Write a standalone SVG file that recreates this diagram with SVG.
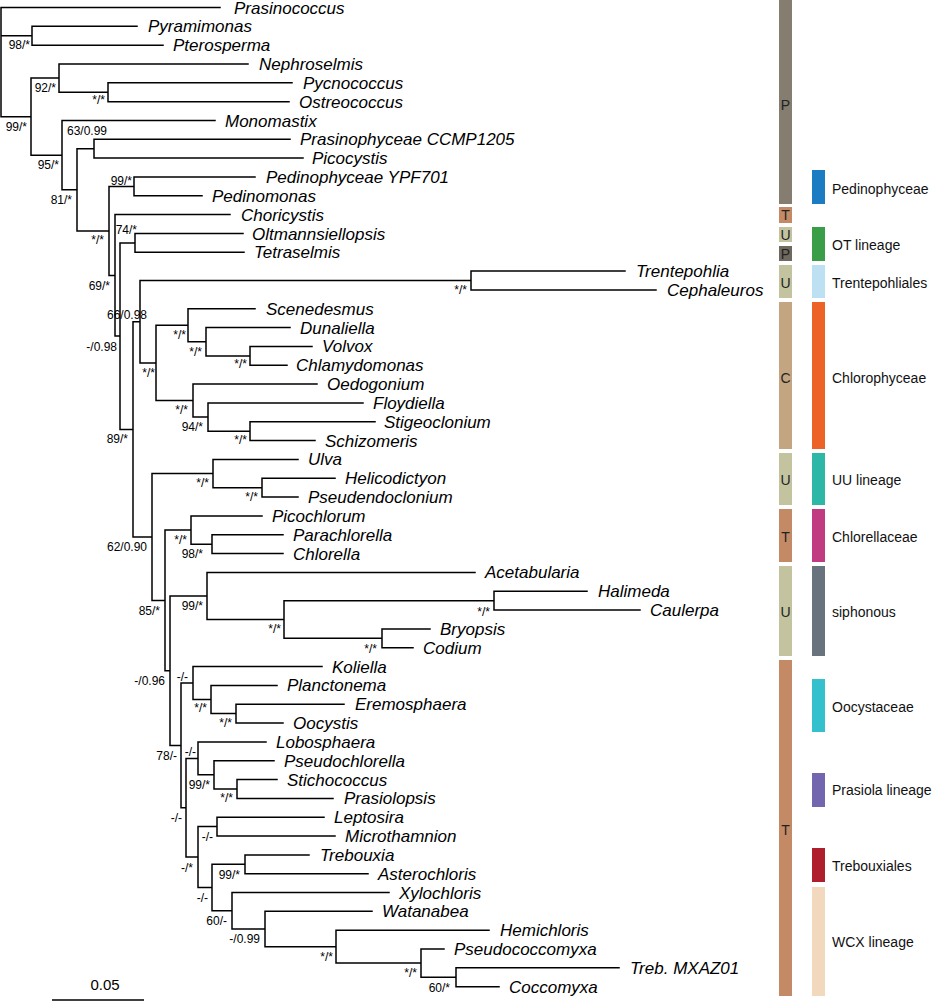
<svg xmlns="http://www.w3.org/2000/svg" width="936" height="1002" viewBox="0 0 936 1002">
<style>
.br{fill:none;stroke:#000;stroke-width:1.5;stroke-linejoin:miter;stroke-linecap:square}
.tx{font-family:"Liberation Sans",Arial,sans-serif;font-style:italic;font-size:17px;fill:#000}
.bs{font-family:"Liberation Sans",Arial,sans-serif;font-size:12px;fill:#000;text-anchor:end}
.lg{font-family:"Liberation Sans",Arial,sans-serif;font-size:14px;fill:#111}
.ab{font-family:"Liberation Sans",Arial,sans-serif;font-size:14px;fill:#222;text-anchor:middle}
</style>
<rect width="936" height="1002" fill="#fff"/>
<g id="connectors">
<path class="br" d="M220,7.5 H1 V116.7 H31 M1,35.8 H32
M137,26.3 H32 V45.2 H163
M59,78.1 H31 V155.2 H62
M248,64 H59 V92.3 H108
M292,82.8 H108 V101.7 H289
M215,120.5 H62 V189.8 H77
M94,148.7 H77 V230.9 H109
M290,139.3 H94 V158.1 H303
M134,186.4 H109 V275.4 H115
M255,177 H134 V195.8 H202
M230,214.6 H115 V336.1 H120
M135,242.9 H120 V429.4 H133
M243,233.5 H135 V252.3 H244
M140,321.7 H133 V537 H152
M471,280.6 H140 V362.9 H156
M625,271.1 H471 V290 H656
M188,325.3 H156 V400.6 H193
M255,308.8 H188 V341.7 H206
M290,327.6 H206 V355.9 H250
M312,346.4 H250 V365.3 H287
M317,384.1 H193 V417 H208
M363,402.9 H208 V431.2 H250
M375,421.8 H250 V440.6 H315
M213,473.6 H152 V600.4 H165
M298,459.4 H213 V487.7 H262
M335,478.3 H262 V497.1 H298
M191,530 H165 V670.7 H170
M262,515.9 H191 V544.2 H212
M283,534.7 H212 V553.6 H283
M207,596 H170 V745.4 H181
M475,572.4 H207 V619.5 H284
M494,600.7 H284 V638.3 H382
M587,591.2 H494 V610.1 H640
M430,628.9 H382 V647.7 H413
M193,683 H181 V807.7 H186
M322,666.6 H193 V699.5 H211
M277,685.4 H211 V713.6 H236
M344,704.2 H236 V723 H283
M198,758.4 H186 V857.1 H198
M266,741.9 H198 V774.8 H214
M274,760.7 H214 V789 H237
M277,779.5 H237 V798.4 H333
M217,826.6 H198 V887.5 H212
M324,817.2 H217 V836 H335
M245,864.3 H212 V910.8 H232
M309,854.9 H245 V873.7 H368
M389,892.5 H232 V929 H265
M372,911.3 H265 V946.7 H336
M489,930.2 H336 V963.1 H421
M444,949 H421 V977.3 H456
M619,967.8 H456 V986.7 H499"/>
</g>
<g id="taxa">
<g id="t-prasinococcus"><text class="tx" x="234" y="13.5">Prasinococcus</text></g>
<g id="t-pyramimonas"><text class="tx" x="148" y="32.3">Pyramimonas</text></g>
<g id="t-pterosperma"><text class="tx" x="173" y="51.2">Pterosperma</text></g>
<g id="t-nephroselmis"><text class="tx" x="259" y="70">Nephroselmis</text></g>
<g id="t-pycnococcus"><text class="tx" x="303" y="88.8">Pycnococcus</text></g>
<g id="t-ostreococcus"><text class="tx" x="299" y="107.7">Ostreococcus</text></g>
<g id="t-monomastix"><text class="tx" x="225" y="126.5">Monomastix</text></g>
<g id="t-ccmp1205"><text class="tx" x="300" y="145.3">Prasinophyceae CCMP1205</text></g>
<g id="t-picocystis"><text class="tx" x="312" y="164.1">Picocystis</text></g>
<g id="t-ypf701"><text class="tx" x="266" y="183">Pedinophyceae YPF701</text></g>
<g id="t-pedinomonas"><text class="tx" x="212" y="201.8">Pedinomonas</text></g>
<g id="t-choricystis"><text class="tx" x="241" y="220.6">Choricystis</text></g>
<g id="t-oltmannsiellopsis"><text class="tx" x="252" y="239.5">Oltmannsiellopsis</text></g>
<g id="t-tetraselmis"><text class="tx" x="254" y="258.3">Tetraselmis</text></g>
<g id="t-trentepohlia"><text class="tx" x="636" y="277.1">Trentepohlia</text></g>
<g id="t-cephaleuros"><text class="tx" x="667" y="296">Cephaleuros</text></g>
<g id="t-scenedesmus"><text class="tx" x="266" y="314.8">Scenedesmus</text></g>
<g id="t-dunaliella"><text class="tx" x="300" y="333.6">Dunaliella</text></g>
<g id="t-volvox"><text class="tx" x="322" y="352.4">Volvox</text></g>
<g id="t-chlamydomonas"><text class="tx" x="296" y="371.3">Chlamydomonas</text></g>
<g id="t-oedogonium"><text class="tx" x="327" y="390.1">Oedogonium</text></g>
<g id="t-floydiella"><text class="tx" x="373" y="408.9">Floydiella</text></g>
<g id="t-stigeoclonium"><text class="tx" x="384" y="427.8">Stigeoclonium</text></g>
<g id="t-schizomeris"><text class="tx" x="325" y="446.6">Schizomeris</text></g>
<g id="t-ulva"><text class="tx" x="308" y="465.4">Ulva</text></g>
<g id="t-helicodictyon"><text class="tx" x="345" y="484.3">Helicodictyon</text></g>
<g id="t-pseudendoclonium"><text class="tx" x="308" y="503.1">Pseudendoclonium</text></g>
<g id="t-picochlorum"><text class="tx" x="272" y="521.9">Picochlorum</text></g>
<g id="t-parachlorella"><text class="tx" x="293" y="540.7">Parachlorella</text></g>
<g id="t-chlorella"><text class="tx" x="293" y="559.6">Chlorella</text></g>
<g id="t-acetabularia"><text class="tx" x="485" y="578.4">Acetabularia</text></g>
<g id="t-halimeda"><text class="tx" x="598" y="597.2">Halimeda</text></g>
<g id="t-caulerpa"><text class="tx" x="650" y="616.1">Caulerpa</text></g>
<g id="t-bryopsis"><text class="tx" x="440" y="634.9">Bryopsis</text></g>
<g id="t-codium"><text class="tx" x="423" y="653.7">Codium</text></g>
<g id="t-koliella"><text class="tx" x="332" y="672.6">Koliella</text></g>
<g id="t-planctonema"><text class="tx" x="287" y="691.4">Planctonema</text></g>
<g id="t-eremosphaera"><text class="tx" x="355" y="710.2">Eremosphaera</text></g>
<g id="t-oocystis"><text class="tx" x="293" y="729">Oocystis</text></g>
<g id="t-lobosphaera"><text class="tx" x="276" y="747.9">Lobosphaera</text></g>
<g id="t-pseudochlorella"><text class="tx" x="284" y="766.7">Pseudochlorella</text></g>
<g id="t-stichococcus"><text class="tx" x="287" y="785.5">Stichococcus</text></g>
<g id="t-prasiolopsis"><text class="tx" x="344" y="804.4">Prasiolopsis</text></g>
<g id="t-leptosira"><text class="tx" x="334" y="823.2">Leptosira</text></g>
<g id="t-microthamnion"><text class="tx" x="345" y="842">Microthamnion</text></g>
<g id="t-trebouxia"><text class="tx" x="320" y="860.9">Trebouxia</text></g>
<g id="t-asterochloris"><text class="tx" x="378" y="879.7">Asterochloris</text></g>
<g id="t-xylochloris"><text class="tx" x="399" y="898.5">Xylochloris</text></g>
<g id="t-watanabea"><text class="tx" x="382" y="917.3">Watanabea</text></g>
<g id="t-hemichloris"><text class="tx" x="500" y="936.2">Hemichloris</text></g>
<g id="t-pseudococcomyxa"><text class="tx" x="454" y="955">Pseudococcomyxa</text></g>
<g id="t-mxaz01"><text class="tx" x="630" y="973.8">Treb. MXAZ01</text></g>
<g id="t-coccomyxa"><text class="tx" x="509" y="992.7">Coccomyxa</text></g>
</g>
<g id="support">
<text class="bs" x="30" y="49">98/*</text>
<text class="bs" x="27" y="131">99/*</text>
<text class="bs" x="56" y="92">92/*</text>
<text class="bs" x="105" y="104">*/*</text>
<text class="bs" x="59" y="169">95/*</text>
<text class="bs" x="107" y="135">63/0.99</text>
<text class="bs" x="72" y="204">81/*</text>
<text class="bs" x="132" y="185">99/*</text>
<text class="bs" x="104" y="244">*/*</text>
<text class="bs" x="137" y="234">74/*</text>
<text class="bs" x="110" y="290">69/*</text>
<text class="bs" x="147" y="319">66/0.98</text>
<text class="bs" x="117" y="351">-/0.98</text>
<text class="bs" x="467" y="294">*/*</text>
<text class="bs" x="155" y="377">*/*</text>
<text class="bs" x="186" y="339">*/*</text>
<text class="bs" x="202" y="356">*/*</text>
<text class="bs" x="247" y="368">*/*</text>
<text class="bs" x="188" y="414">*/*</text>
<text class="bs" x="203" y="431">94/*</text>
<text class="bs" x="247" y="444">*/*</text>
<text class="bs" x="128" y="443">89/*</text>
<text class="bs" x="209" y="487">*/*</text>
<text class="bs" x="258" y="501">*/*</text>
<text class="bs" x="147" y="551">62/0.90</text>
<text class="bs" x="187" y="544">*/*</text>
<text class="bs" x="203" y="558">98/*</text>
<text class="bs" x="160" y="615">85/*</text>
<text class="bs" x="203" y="610">99/*</text>
<text class="bs" x="281" y="633">*/*</text>
<text class="bs" x="490" y="616">*/*</text>
<text class="bs" x="377" y="653">*/*</text>
<text class="bs" x="165" y="685">-/0.96</text>
<text class="bs" x="188" y="681">-/-</text>
<text class="bs" x="207" y="712">*/*</text>
<text class="bs" x="232" y="727">*/*</text>
<text class="bs" x="177" y="760">78/-</text>
<text class="bs" x="196" y="756">-/-</text>
<text class="bs" x="210" y="789">99/*</text>
<text class="bs" x="233" y="802">*/*</text>
<text class="bs" x="182" y="822">-/-</text>
<text class="bs" x="193" y="872">-/*</text>
<text class="bs" x="213" y="841">-/-</text>
<text class="bs" x="208" y="902">-/-</text>
<text class="bs" x="240" y="879">99/*</text>
<text class="bs" x="227" y="925">60/-</text>
<text class="bs" x="260" y="943">-/0.99</text>
<text class="bs" x="333" y="961">*/*</text>
<text class="bs" x="417" y="977">*/*</text>
<text class="bs" x="450" y="992">60/*</text>
</g>
<g id="scale-bar">
<line x1="52" y1="1000" x2="144" y2="1000" stroke="#000" stroke-width="1.5"/>
<text x="105" y="990" font-family="Liberation Sans, Arial, sans-serif" font-size="15" text-anchor="middle">0.05</text>
</g>
<g id="classes">
<rect x="779" y="0" width="13" height="204" fill="#847d70"/><text class="ab" x="785.5" y="110">P</text>
<rect x="779" y="207" width="13" height="16" fill="#c48a66"/><text class="ab" x="785.5" y="220">T</text>
<rect x="779" y="227" width="13" height="15" fill="#c3c49f"/><text class="ab" x="785.5" y="240">U</text>
<rect x="779" y="246" width="13" height="15" fill="#6e685e"/><text class="ab" x="785.5" y="259">P</text>
<rect x="779" y="265" width="13" height="33" fill="#c3c49f"/><text class="ab" x="785.5" y="288">U</text>
<rect x="779" y="302" width="13" height="147" fill="#c3a681"/><text class="ab" x="785.5" y="383">C</text>
<rect x="779" y="453" width="13" height="52" fill="#c3c49f"/><text class="ab" x="785.5" y="485">U</text>
<rect x="779" y="509" width="13" height="53" fill="#c48a66"/><text class="ab" x="785.5" y="542">T</text>
<rect x="779" y="566" width="13" height="90" fill="#c3c49f"/><text class="ab" x="785.5" y="617">U</text>
<rect x="779" y="660" width="13" height="336" fill="#c48a66"/><text class="ab" x="785.5" y="835">T</text>
</g>
<g id="lineages">
<g id="l-pedinophyceae"><rect x="812" y="170" width="13" height="34" fill="#1b7cc4"/><text class="lg" x="832" y="194">Pedinophyceae</text></g>
<g id="l-ot"><rect x="812" y="227" width="13" height="34" fill="#3a9e48"/><text class="lg" x="832" y="250">OT lineage</text></g>
<g id="l-trentepohliales"><rect x="812" y="265" width="13" height="33" fill="#bde1f2"/><text class="lg" x="832" y="288">Trentepohliales</text></g>
<g id="l-chlorophyceae"><rect x="812" y="302" width="13" height="147" fill="#ec6227"/><text class="lg" x="832" y="383">Chlorophyceae</text></g>
<g id="l-uu"><rect x="812" y="453" width="13" height="52" fill="#2db7a6"/><text class="lg" x="832" y="485">UU lineage</text></g>
<g id="l-chlorellaceae"><rect x="812" y="509" width="13" height="53" fill="#c13b83"/><text class="lg" x="832" y="542">Chlorellaceae</text></g>
<g id="l-siphonous"><rect x="812" y="566" width="13" height="90" fill="#68737e"/><text class="lg" x="832" y="617">siphonous</text></g>
<g id="l-oocystaceae"><rect x="812" y="679" width="13" height="53" fill="#34c0cd"/><text class="lg" x="832" y="712">Oocystaceae</text></g>
<g id="l-prasiola"><rect x="812" y="773" width="13" height="34" fill="#7466ae"/><text class="lg" x="832" y="795">Prasiola lineage</text></g>
<g id="l-trebouxiales"><rect x="812" y="848" width="13" height="34" fill="#ae1e2d"/><text class="lg" x="832" y="871">Trebouxiales</text></g>
<g id="l-wcx"><rect x="812" y="887" width="13" height="109" fill="#f2d8bc"/><text class="lg" x="832" y="947">WCX lineage</text></g>
</g>
</svg>
